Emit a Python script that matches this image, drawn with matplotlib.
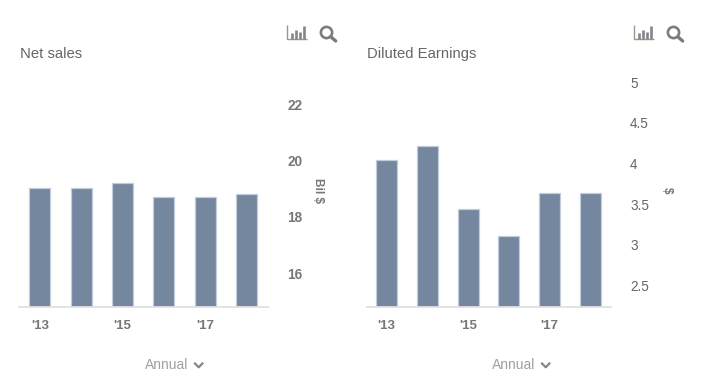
import matplotlib
matplotlib.use("Agg")
import matplotlib.pyplot as plt
from matplotlib.patches import Circle
from matplotlib.transforms import ScaledTranslation

plt.rcParams['font.family'] = ['Liberation Sans', 'DejaVu Sans']

W, H = 721, 388

years = ["'13", "", "'15", "", "'17", ""]
net_sales = [19.04, 19.04, 19.21, 18.73, 18.73, 18.82]
net_ticks = [16, 18, 20, 22]
net_tick_labels = ["16", "18", "20", "22"]
eps = [4.05, 4.23, 3.45, 3.12, 3.65, 3.65]
eps_ticks = [2.5, 3, 3.5, 4, 4.5, 5]
eps_tick_labels = ["2.5", "3", "3.5", "4", "4.5", "5"]

BAR = '#75869f'
EDGE = '#c3ccda'
TXT = '#666666'
TXT_BOLD = '#777777'


def make_axes(fig, x0, x1, y_top, y_bot):
    return fig.add_axes([x0 / W, 1 - y_bot / H, (x1 - x0) / W, (y_bot - y_top) / H])


def panel(fig, box, first, step, width, ylim, values, ticks, tick_labels, title, title_x,
          unit, unit_x, unit_y, annual_x, tick_weight):
    x0, x1, y_top, y_bot = box
    ax = make_axes(fig, x0, x1, y_top, y_bot)
    ax.patch.set_alpha(0)
    ax.set_xlim((x0 - first) / step, (x1 - first) / step)
    ax.set_ylim(*ylim)
    ax.bar(range(len(values)), values, width=width / step, color=BAR, edgecolor=EDGE,
           linewidth=0.9, zorder=2)
    for s in ['top', 'left', 'right']:
        ax.spines[s].set_visible(False)
    ax.spines['bottom'].set_color('#e0e0e3')
    ax.spines['bottom'].set_linewidth(1.3)
    ax.spines['bottom'].set_zorder(3)
    ax.set_xticks(range(len(years)))
    ax.set_xticklabels(years, fontsize=9.5, color=TXT_BOLD, fontweight='bold')
    ax.tick_params(axis='x', length=0, pad=9.5)
    ax.yaxis.tick_right()
    ax.set_yticks(ticks)
    tick_color = TXT_BOLD if tick_weight == 'bold' else TXT
    ax.set_yticklabels(tick_labels, fontsize=9.8, color=tick_color, fontweight=tick_weight)
    ax.tick_params(axis='y', length=0, pad=13.7)
    # labels sit a little higher than the tick position in the original
    up = ScaledTranslation(0, 0.5 / 72, fig.dpi_scale_trans)
    for lab in ax.get_yticklabels():
        lab.set_transform(lab.get_transform() + up)
    fig.text(title_x / W, 1 - 58 / H, title, fontsize=10.7, color=TXT, va='baseline', ha='left')
    fig.text(unit_x / W, 1 - unit_y / H, unit, fontsize=8.5, color=TXT_BOLD, fontweight='bold',
             rotation=270, ha='center', va='center')
    fig.text(annual_x / W, 1 - 365 / H, "Annual", fontsize=10, color='#a0a0a5',
             ha='left', va='center')
    return ax


def chart_icon(ov, x):
    ov.plot([x, x, x + 20], [25, 39, 39], color='#9a9a80', lw=1.0, solid_capstyle='butt')
    for dx, top in zip([4.5, 9, 13, 16.5], [33, 30, 32, 26]):
        ov.plot([x + dx, x + dx], [38.5, top], color='#85858a', lw=1.9, solid_capstyle='butt')


def search_icon(ov, x):
    ov.add_patch(Circle((x + 6.5, 32.5), 5.6, fill=False, ec='#7c7c80', lw=1.9))
    ov.plot([x + 10.7, x + 15.7], [36.7, 41], color='#7c7c80', lw=2.4, solid_capstyle='round')


def chevron(ov, x):
    ov.plot([x, x + 3.7, x + 7.4], [363.5, 367.3, 363.5], color='#85858a', lw=1.6)


fig = plt.figure(figsize=(W / 100, H / 100), dpi=100, facecolor='white')

panel(fig, (19, 268, 70, 306.5), 39.8, 41.3, 21, (14.84, 23.24), net_sales, net_ticks,
      net_tick_labels, "Net sales", 20, "Bil $", 318, 191, 145, 'bold')
panel(fig, (367, 611, 70, 306.5), 386.6, 40.7, 21, (2.25, 5.16), eps, eps_ticks,
      eps_tick_labels, "Diluted Earnings", 367, "$", 667, 190, 492, 'normal')

ov = fig.add_axes([0, 0, 1, 1], zorder=5)
ov.set_xlim(0, W)
ov.set_ylim(H, 0)
ov.axis('off')
ov.patch.set_alpha(0)
chart_icon(ov, 287)
search_icon(ov, 320)
chart_icon(ov, 634)
search_icon(ov, 667)
chevron(ov, 195)
chevron(ov, 542)

fig.savefig('out.png', dpi=100)
